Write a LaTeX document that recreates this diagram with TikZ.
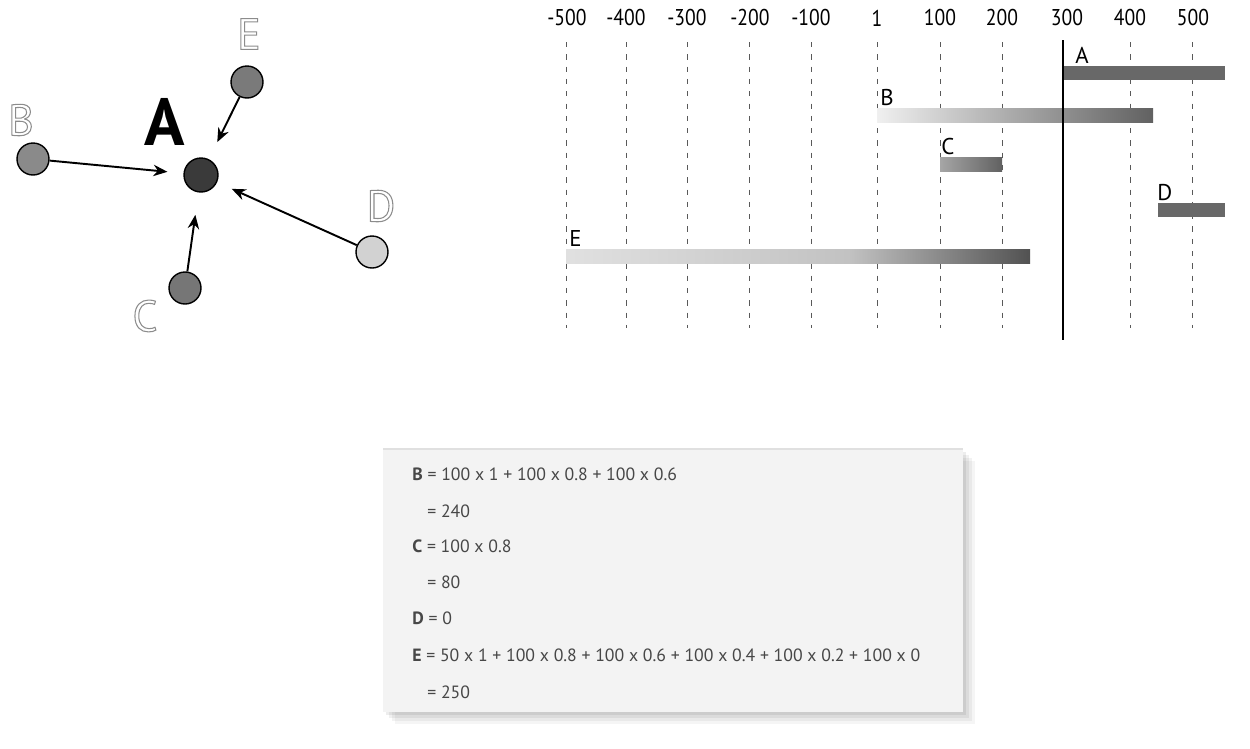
\documentclass[tikz,border=0pt]{standalone}
\usepackage{fontspec}
\usepackage{graphicx}
\setmainfont{PT Sans}
\usetikzlibrary{arrows.meta}
\newcommand{\hollow}[1]{\special{pdf:literal direct 1 Tr 0.6 w}#1\special{pdf:literal direct 0 Tr}}
\newcommand{\narrow}[1]{\scalebox{0.86}[1]{#1}}
\definecolor{nodeA}{HTML}{3A3A3A}
\definecolor{nodeB}{HTML}{8A8A8A}
\definecolor{nodeC}{HTML}{767676}
\definecolor{nodeD}{HTML}{D2D2D2}
\definecolor{nodeE}{HTML}{7A7A7A}
\definecolor{bardark}{HTML}{686868}
\definecolor{outl}{HTML}{8C8C8C}
\definecolor{boxfill}{HTML}{F3F3F3}
\tikzset{
  dot/.style={circle, draw=black, line width=0.8pt, minimum size=0.64cm, inner sep=0pt},
  inarrow/.style={-{Stealth[length=8pt,width=6.5pt]}, line width=1.1pt},
  hollowlbl/.style={font=\fontsize{25}{25}\selectfont, text=outl, inner sep=0pt},
  tick/.style={font=\fontsize{13}{13}\selectfont, inner sep=0pt},
  grid/.style={dash pattern=on 3pt off 4pt, line width=0.5pt, draw=black!65},
  barlbl/.style={font=\fontsize{13}{13}\selectfont, inner sep=0pt, anchor=south west},
  eq/.style={font=\fontsize{10.1}{11}\selectfont, text=black!72, inner sep=0pt, anchor=west}
}
\begin{document}
\begin{tikzpicture}[x=0.02cm, y=-0.02cm]
\useasboundingbox (0,0) rectangle (1250,748);
% ---------- left graph ----------
\node[dot, fill=nodeA, minimum size=0.68cm] (A) at (201,175) {};
\node[dot, fill=nodeB] (B) at (33,159) {};
\node[dot, fill=nodeE] (E) at (247,82) {};
\node[dot, fill=nodeC] (C) at (185,288) {};
\node[dot, fill=nodeD] (D) at (372,252) {};
\node[font=\fontsize{38}{38}\selectfont\bfseries, inner sep=0pt] (lA) at (165,122) {A};
\node[hollowlbl] (lB) at (21,120) {\hollow{B}};
\node[hollowlbl] (lE) at (249,34) {\hollow{E}};
\node[hollowlbl] (lC) at (145,316) {\hollow{C}};
\node[hollowlbl] (lD) at (381,206) {\hollow{D}};
\draw[inarrow, shorten >=0.32cm] (B) -- (A);
\draw[inarrow, shorten >=0.38cm] (E) -- (A);
\draw[inarrow, shorten >=0.45cm] (C) -- (A);
\draw[inarrow, shorten >=0.32cm] (D) -- (A);
% ---------- right chart ----------
\foreach \x in {566,626,687,749,811,877,940,1002,1130,1192}{
  \draw[grid] (\x,42) -- (\x,328);
}
\foreach \x/\t/\n in {567/-500/m5,626/-400/m4,687/-300/m3,750/-200/m2,811/-100/m1,877/1/z,940/100/p1,1002/200/p2,1067/300/p3,1130/400/p4,1193/500/p5}{
  \node[tick] (t\n) at (\x,18) {\narrow{\t}};
}
\coordinate (axtop) at (1063,40);
\coordinate (axbot) at (1063,340);
\fill[bardark] (1063,66) rectangle (1225,80);
\shade[left color=black!6, middle color=black!40, right color=black!62] (877,108) rectangle (1153,122);
\shade[left color=black!35, right color=black!62] (940,157) rectangle (1002,171);
\fill[bardark] (1158,203) rectangle (1225,217);
\shade[left color=black!12, right color=black!24] (566,249) rectangle (850,263);
\shade[left color=black!24, right color=black!68] (849.5,249) rectangle (1030,263);
\draw[line width=1.1pt] (axtop) -- (axbot);
\node[barlbl] (bA) at (1075,64) {A};
\node[barlbl] (bB) at (880,106) {B};
\node[barlbl] (bC) at (941,155) {C};
\node[barlbl] (bD) at (1157,201) {D};
\node[barlbl] (bE) at (569,247) {E};
% ---------- equations box ----------
\foreach \o/\op in {12/0.04,9/0.05,6/0.06,3/0.07}{
  \fill[black, opacity=\op] (383+\o,449+\o) rectangle (963+\o,712+\o);
}
\fill[boxfill] (383,449) rectangle (963,712);
\draw[black!12, line width=0.6pt] (383,449) -- (963,449);
\node[eq] (e1) at (412,474) {\textbf{B} = 100 x 1 + 100 x 0.8 + 100 x 0.6};
\node[eq] (e2) at (427,511) {= 240};
\node[eq] (e3) at (412,546) {\textbf{C} = 100 x 0.8};
\node[eq] (e4) at (427,582) {= 80};
\node[eq] (e5) at (412,618) {\textbf{D} = 0};
\node[eq] (e6) at (412,655) {\textbf{E} = 50 x 1 + 100 x 0.8 + 100 x 0.6 + 100 x 0.4 + 100 x 0.2 + 100 x 0};
\node[eq] (e7) at (427,692) {= 250};
\end{tikzpicture}
\end{document}
